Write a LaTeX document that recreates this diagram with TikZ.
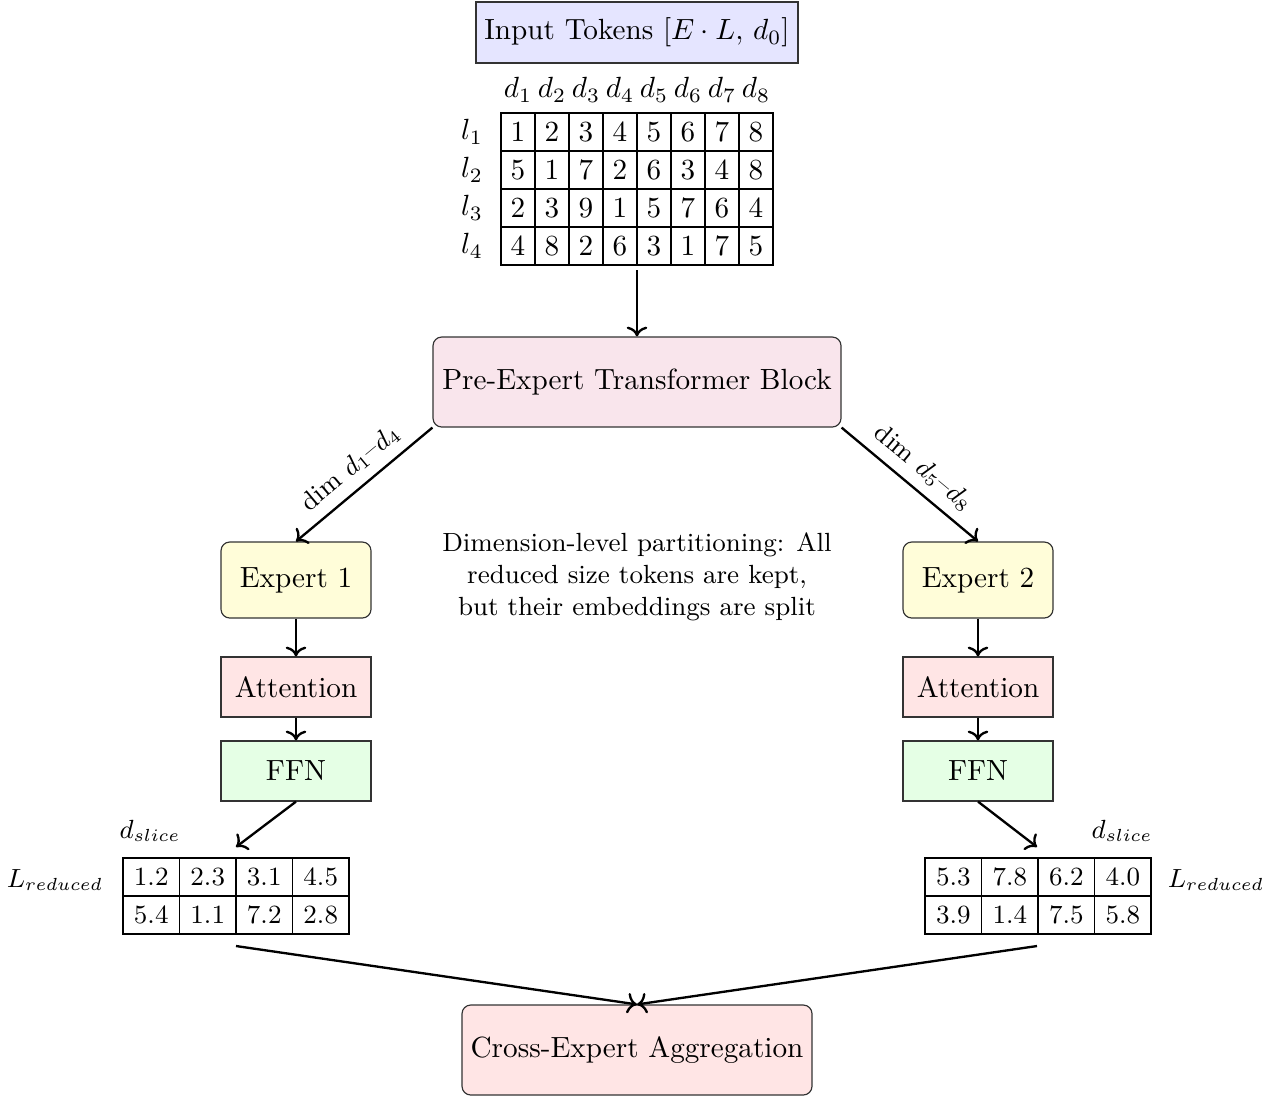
\documentclass[tikz,border=0pt]{standalone}
\usetikzlibrary{arrows.meta}

% one drawing unit = 0.3425pt, y grows downwards
\newcommand{\pxl}{0.3425pt}

\begin{document}
\begin{tikzpicture}[x=0.3425pt, y=-0.3425pt,
  box/.style={draw=black!80, align=center, inner sep=0pt},
  roundbox/.style={box, rounded corners=3pt},
  cell/.style={draw, inner sep=0pt, minimum width={34*\pxl}, minimum height={38*\pxl}},
  wcell/.style={draw, inner sep=0pt, font=\small, minimum width={56.5*\pxl}, minimum height={38*\pxl}},
  arr/.style={->, thick},
  lbl/.style={inner sep=1pt},
  slbl/.style={inner sep=1pt, font=\small}
]
\useasboundingbox (0,0) rectangle (1282,1097);

% input tokens
\node[box, fill=blue!10, minimum width={322*\pxl}, minimum height={61*\pxl}] (input) at (637,32.5) {Input Tokens $[E\cdot L,\, d_0]$};

% token matrix with row and column labels
\foreach \r/\vals in {1/{1,2,3,4,5,6,7,8}, 2/{5,1,7,2,6,3,4,8}, 3/{2,3,9,1,5,7,6,4}, 4/{4,8,2,6,3,1,7,5}} {
  \foreach \v [count=\c] in \vals {
    \node[cell] (m-\r-\c) at ({484+34*\c},{94+38*\r}) {\v};
  }
  \node[lbl] (row-\r) at (472,{94+38*\r}) {$l_{\r}$};
}
\foreach \c in {1,...,8} {
  \node[lbl] (col-\c) at ({484+34*\c},90) {$d_{\c}$};
}
\coordinate (mbot) at (637,270);

% shared block
\node[roundbox, fill=purple!10, minimum width={408*\pxl}, minimum height={90*\pxl}] (pre) at (637,382) {Pre-Expert Transformer Block};
\draw[arr] (mbot) -- (pre.north);

% expert 1 branch
\node[roundbox, fill=yellow!15, minimum width={150*\pxl}, minimum height={76*\pxl}] (exp1) at (296,580) {Expert 1};
\node[box, fill=red!10, minimum width={150*\pxl}, minimum height={60*\pxl}] (att1) at (296,687) {Attention};
\node[box, fill=green!10, minimum width={150*\pxl}, minimum height={60*\pxl}] (ffn1) at (296,771) {FFN};

% expert 2 branch
\node[roundbox, fill=yellow!15, minimum width={150*\pxl}, minimum height={76*\pxl}] (exp2) at (978,580) {Expert 2};
\node[box, fill=red!10, minimum width={150*\pxl}, minimum height={60*\pxl}] (att2) at (978,687) {Attention};
\node[box, fill=green!10, minimum width={150*\pxl}, minimum height={60*\pxl}] (ffn2) at (978,771) {FFN};

\draw[arr] (pre.south west) -- node[midway, above, sloped, font=\small] {dim $d_1$--$d_4$} (exp1.north);
\draw[arr] (pre.south east) -- node[midway, above, sloped, font=\small] {dim $d_5$--$d_8$} (exp2.north);
\draw[arr] (exp1.south) -- (att1.north);
\draw[arr] (att1.south) -- (ffn1.north);
\draw[arr] (exp2.south) -- (att2.north);
\draw[arr] (att2.south) -- (ffn2.north);

% note
\node[align=center, font=\small] (note) at (637,577) {Dimension-level partitioning: All\\reduced size tokens are kept,\\but their embeddings are split};

% left output slice
\foreach \r/\vals in {1/{1.2,2.3,3.1,4.5}, 2/{5.4,1.1,7.2,2.8}} {
  \foreach \v [count=\c] in \vals {
    \node[wcell] (a-\r-\c) at ({94.75+56.5*\c},{839+38*\r}) {\v};
  }
}
\node[slbl] (aslice) at (150,831) {$d_{slice}$};
\node[slbl] (ared) at (55,880) {$L_{reduced}$};
\coordinate (atop) at (236,847);
\coordinate (abot) at (236,946);

% right output slice
\foreach \r/\vals in {1/{5.3,7.8,6.2,4.0}, 2/{3.9,1.4,7.5,5.8}} {
  \foreach \v [count=\c] in \vals {
    \node[wcell] (b-\r-\c) at ({896.75+56.5*\c},{839+38*\r}) {\v};
  }
}
\node[slbl] (bslice) at (1122,831) {$d_{slice}$};
\node[slbl] (bred) at (1216,880) {$L_{reduced}$};
\coordinate (btop) at (1037,847);
\coordinate (bbot) at (1037,946);

\draw[arr] (ffn1.south) -- (atop);
\draw[arr] (ffn2.south) -- (btop);

% aggregation
\node[roundbox, fill=red!10, minimum width={350*\pxl}, minimum height={90*\pxl}] (agg) at (637,1050) {Cross-Expert Aggregation};
\draw[arr] (abot) -- (agg.north);
\draw[arr] (bbot) -- (agg.north);
\end{tikzpicture}
\end{document}
